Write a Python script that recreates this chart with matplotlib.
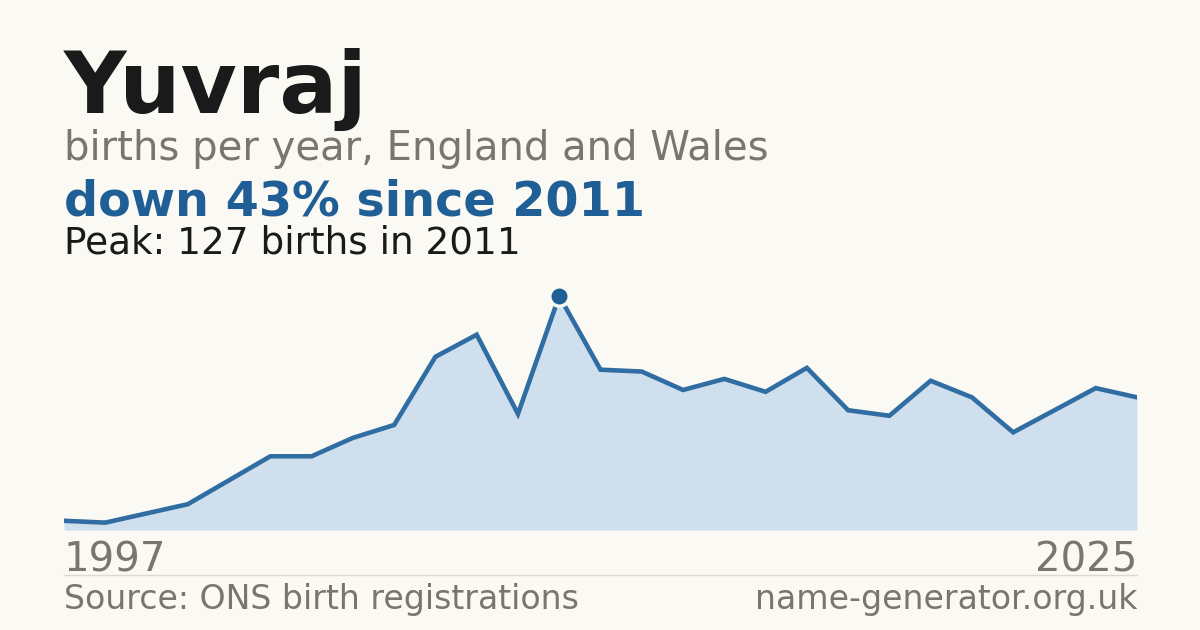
import matplotlib.pyplot as plt

# ---- data ----
name = "Yuvraj"
years = [1997, 2000, 2001, 2002, 2003, 2004, 2005, 2006, 2007, 2008, 2009,
         2010, 2011, 2012, 2013, 2014, 2015, 2016, 2017, 2018, 2019, 2020,
         2021, 2022, 2023, 2024, 2025]
births = [5, 4, 9, 14, 27, 40, 40, 50, 57, 94, 106, 63, 127, 87, 86, 76,
          82, 75, 88, 65, 62, 81, 72, 53, 65, 77, 72]

BG = '#faf9f4'
DARK = '#1a1a1a'
GREY = '#7a756d'
BLUE = '#1f5f96'
LINE = '#2f6da2'
FILL = '#cfdfee'

W, H = 1200, 630
fig = plt.figure(figsize=(W / 100, H / 100), dpi=100, facecolor=BG)

def fy(py):
    # pixel row from the top -> figure fraction
    return 1 - py / H

# chart area: x 64..1137, baseline at y=530, peak at y=296
ax_top, ax_bot = 270, 530
ax = fig.add_axes([64 / W, fy(ax_bot), (1137 - 64) / W, (ax_bot - ax_top) / H])
ax.set_facecolor(BG)

xs = list(range(len(years)))
peak_i = births.index(max(births))
ax.fill_between(xs, births, 0, color=FILL, linewidth=0)
ax.plot(xs, births, color=LINE, linewidth=3.3, solid_joinstyle='miter', zorder=3)
ax.plot(xs[peak_i], births[peak_i], 'o', color=BLUE, markersize=14,
        markeredgecolor=BG, markeredgewidth=2.5, zorder=4, clip_on=False)

ax.set_xlim(0, len(years) - 1)
ax.set_ylim(0, max(births) * (ax_bot - ax_top) / (ax_bot - 296))
ax.axis('off')

# ---- texts ----
first, last = years[0], years[-1]
drop = round((1 - births[-1] / births[peak_i]) * 100)

fig.text(64 / W, fy(113), name, fontsize=62, fontweight='bold', color=DARK, va='baseline')
fig.text(64 / W, fy(160), 'births per year, England and Wales', fontsize=28.9,
         color=GREY, va='baseline')
fig.text(64 / W, fy(215), f'down {drop}% since {years[peak_i]}', fontsize=34.4,
         fontweight='bold', color=BLUE, va='baseline')
fig.text(64 / W, fy(254), f'Peak: {births[peak_i]} births in {years[peak_i]}',
         fontsize=26.9, color=DARK, va='baseline')

fig.text(64 / W, fy(571), str(first), fontsize=29, color=GREY, va='baseline')
fig.text(1137 / W, fy(571), str(last), fontsize=29, color=GREY, va='baseline', ha='right')

fig.add_artist(plt.Line2D([64 / W, 1137 / W], [fy(574.5), fy(574.5)],
                          color='#dddad3', linewidth=1))

fig.text(64 / W, fy(609), 'Source: ONS birth registrations', fontsize=23.9,
         color=GREY, va='baseline')
fig.text(1137 / W, fy(609), 'name-generator.org.uk', fontsize=23.9, color=GREY,
         va='baseline', ha='right')

fig.savefig('out.png', dpi=100, facecolor=BG)
